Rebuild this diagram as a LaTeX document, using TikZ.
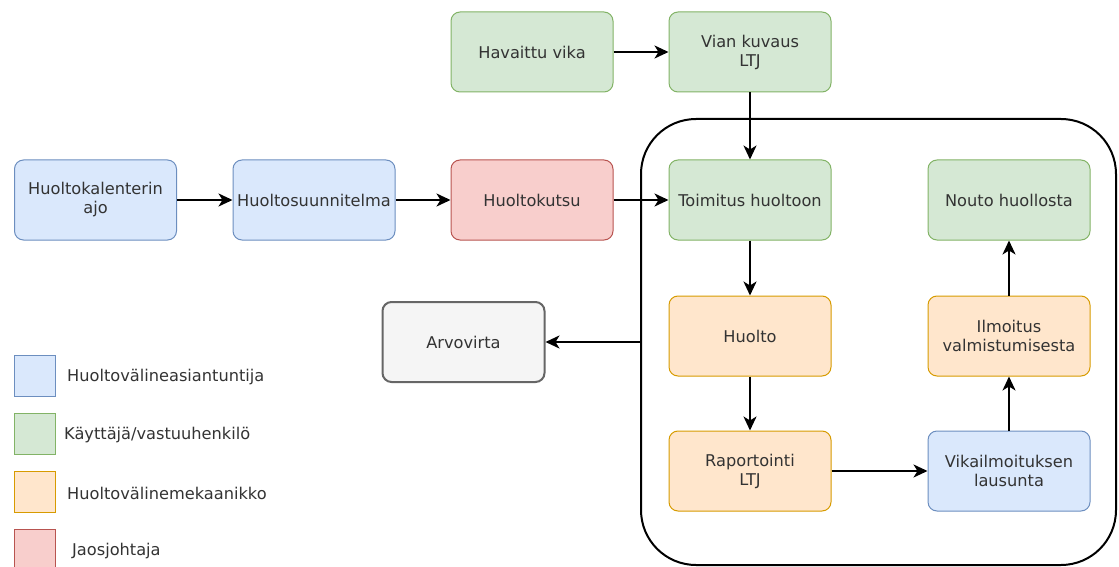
\documentclass[tikz,border=0pt]{standalone}
\usepackage{fontspec}
\setmainfont{DejaVu Sans}
\usetikzlibrary{arrows.meta}

\definecolor{sinitaus}{HTML}{DAE8FC}
\definecolor{sinireuna}{HTML}{6C8EBF}
\definecolor{vihrtaus}{HTML}{D5E8D4}
\definecolor{vihrreuna}{HTML}{82B366}
\definecolor{orantaus}{HTML}{FFE6CC}
\definecolor{oranreuna}{HTML}{D79B00}
\definecolor{punataus}{HTML}{F8CECC}
\definecolor{punareuna}{HTML}{B85450}
\definecolor{harmtaus}{HTML}{F5F5F5}
\definecolor{harmreuna}{HTML}{666666}
\definecolor{teksti}{HTML}{333333}

\begin{document}
\begin{tikzpicture}[x=1pt,y=-1pt,
    laatikko/.style={draw, rounded corners=9pt, minimum width=162pt, minimum height=80pt,
        inner sep=0pt, align=center, text=teksti, line width=1pt,
        font=\fontsize{16.2}{19}\selectfont},
    sininen/.style={laatikko, fill=sinitaus, draw=sinireuna},
    vihrea/.style={laatikko, fill=vihrtaus, draw=vihrreuna},
    oranssi/.style={laatikko, fill=orantaus, draw=oranreuna},
    punainen/.style={laatikko, fill=punataus, draw=punareuna},
    harmaa/.style={laatikko, fill=harmtaus, draw=harmreuna, line width=2pt},
    selite/.style={draw, minimum size=41pt, inner sep=0pt, line width=1pt},
    selteksti/.style={anchor=west, text=teksti, inner sep=0pt, font=\fontsize{16.2}{19}\selectfont},
    nuoli/.style={-{Stealth[length=14pt,width=13pt,inset=4pt]}, line width=2pt}]
    \useasboundingbox (0,0) rectangle (1119,567);

    % Container
    \node[draw, line width=2pt, rounded corners=55pt, minimum width=475pt,
        minimum height=446pt, inner sep=0pt] (kehys) at (878.5,342) {};

    % Top row
    \node[vihrea] (vika) at (532,52) {Havaittu vika};
    \node[vihrea] (kuvaus) at (750,52) {Vian kuvaus\\LTJ};

    % Planning row
    \node[sininen] (kalenteri) at (95.5,200) {Huoltokalenterin\\ajo};
    \node[sininen] (suunnitelma) at (314,200) {Huoltosuunnitelma};
    \node[punainen] (kutsu) at (532,200) {Huoltokutsu};
    \node[vihrea] (toimitus) at (750,200) {Toimitus huoltoon};
    \node[vihrea] (nouto) at (1009,200) {Nouto huollosta};

    % Inside the container
    \node[oranssi] (huolto) at (750,336) {Huolto};
    \node[oranssi] (ilmoitus) at (1009,336) {Ilmoitus\\valmistumisesta};
    \node[oranssi] (raportointi) at (750,471) {Raportointi\\LTJ};
    \node[sininen] (lausunta) at (1009,471) {Vikailmoituksen\\lausunta};

    % Value stream
    \node[harmaa] (arvo) at (463.5,342) {Arvovirta};

    % Arrows
    \draw[nuoli] (vika) -- (kuvaus);
    \draw[nuoli] (kuvaus) -- (toimitus);
    \draw[nuoli] (kalenteri) -- (suunnitelma);
    \draw[nuoli] (suunnitelma) -- (kutsu);
    \draw[nuoli] (kutsu) -- (toimitus);
    \draw[nuoli] (toimitus) -- (huolto);
    \draw[nuoli] (huolto) -- (raportointi);
    \draw[nuoli] (raportointi) -- (lausunta);
    \draw[nuoli] (lausunta) -- (ilmoitus);
    \draw[nuoli] (ilmoitus) -- (nouto);
    \draw[nuoli] (kehys.west) -- (arvo);

    % Legend
    \node[selite, fill=sinitaus, draw=sinireuna] (lsin) at (34.5,376) {};
    \node[selite, fill=vihrtaus, draw=vihrreuna] (lvihr) at (34.5,434) {};
    \node[selite, fill=orantaus, draw=oranreuna] (loran) at (34.5,492) {};
    \node[selite, fill=punataus, draw=punareuna] (lpuna) at (34.5,550) {};
    \node[selteksti] (tsin) at (67,377) {Huoltovälineasiantuntija};
    \node[selteksti] (tvihr) at (64,435) {Käyttäjä/vastuuhenkilö};
    \node[selteksti] (toran) at (67,493) {Huoltovälinemekaanikko};
    \node[selteksti] (tpuna) at (72,551) {Jaosjohtaja};
\end{tikzpicture}
\end{document}
